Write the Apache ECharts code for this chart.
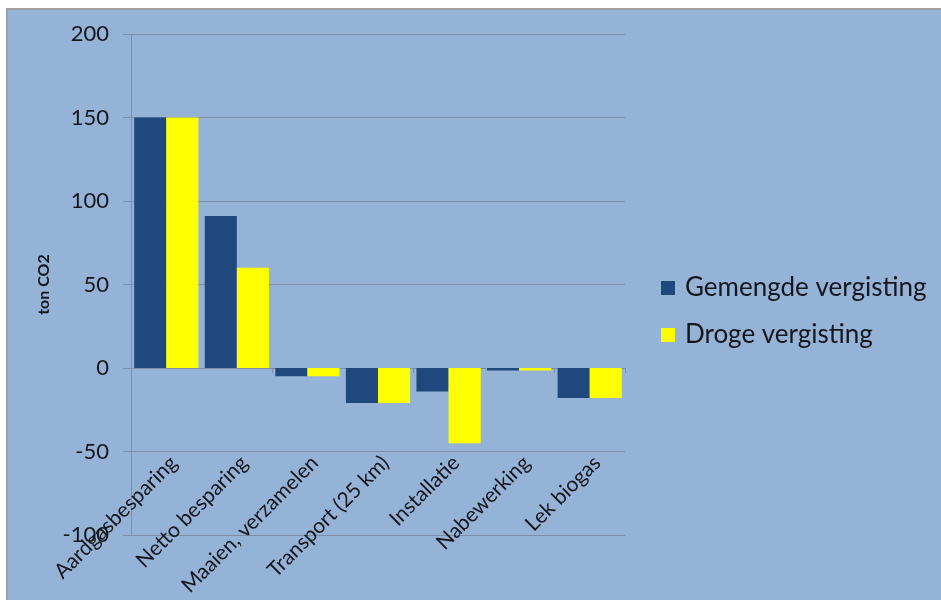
<!DOCTYPE html>
<html>
<head>
<meta charset="utf-8">
<title>ton CO2</title>
<script src="https://cdn.jsdelivr.net/npm/echarts@6/dist/echarts.min.js"></script>
<style>
  html, body { margin: 0; padding: 0; background: #ffffff; }
  #frame {
    position: absolute; left: 6px; top: 8px; right: 0; bottom: 0;
    background: #95b3d7;
    border-top: 2px solid #a0a0a0;
    border-left: 2px solid #a0a0a0;
  }
  #chart { position: absolute; left: 0; top: 0; width: 941px; height: 600px; }
</style>
</head>
<body>
<div id="frame"></div>
<div id="chart"></div>
<script>
// Categories along the x axis
const categories = [
  'Aardgasbesparing',
  'Netto besparing',
  'Maaien, verzamelen',
  'Transport (25 km)',
  'Installatie',
  'Nabewerking',
  'Lek biogas'
];

// Series names
const seriesNames = ['Gemengde vergisting', 'Droge vergisting'];

// Values in ton CO2
const gemengde = [150, 91, -5, -21, -14, -1.5, -18];
const droge = [150, 60, -5, -21, -45, -1.5, -18];

// Value axis range
const yMin = -100;
const yMax = 200;
const yStep = 50;

const FONT = 'Lato, "Open Sans", sans-serif';
const TEXT = '#15171c';
const LINE = '#7d8ea6';

const chart = echarts.init(document.getElementById('chart'), null, { renderer: 'canvas' });

chart.setOption({
  backgroundColor: 'transparent',
  animation: false,
  textStyle: { fontFamily: FONT },
  grid: {
    left: 131, top: 34, width: 494, height: 501,
    containLabel: false,
    outerBoundsMode: 'none'
  },
  legend: {
    orient: 'vertical',
    left: 656, top: 268,
    itemWidth: 14, itemHeight: 14,
    itemGap: 17,
    icon: 'rect',
    data: seriesNames,
    textStyle: {
      fontFamily: FONT, fontSize: 26, color: TEXT,
      lineHeight: 30, padding: [0, 0, 0, 5]
    }
  },
  xAxis: [
    {
      // axis line through zero with boundary ticks
      type: 'category',
      data: categories,
      axisLine: { onZero: true, lineStyle: { color: LINE, width: 1 } },
      axisTick: { show: true, length: 5, lineStyle: { color: LINE } },
      axisLabel: { show: false },
      splitLine: { show: false }
    },
    {
      // category names, slanted, hanging above the bottom edge of the plot
      type: 'category',
      data: categories,
      position: 'bottom',
      axisLine: { show: false, onZero: false },
      axisTick: { show: false },
      axisLabel: {
        interval: 0,
        rotate: 45,
        align: 'right',
        verticalAlign: 'top',
        margin: -83,
        fontFamily: FONT,
        fontSize: 21,
        color: TEXT
      },
      splitLine: { show: false }
    }
  ],
  yAxis: {
    type: 'value',
    min: yMin, max: yMax, interval: yStep,
    name: 'ton CO2',
    nameLocation: 'middle',
    nameRotate: 90,
    nameGap: 78,
    nameTextStyle: { fontFamily: FONT, fontSize: 16, fontWeight: 'bold', color: TEXT },
    axisLine: { show: true, lineStyle: { color: LINE, width: 1 } },
    axisTick: { show: true, length: 8, lineStyle: { color: LINE } },
    axisLabel: { margin: 22, fontFamily: FONT, fontSize: 22, color: TEXT },
    splitLine: { show: true, lineStyle: { color: LINE, width: 1 } }
  },
  series: [
    {
      name: seriesNames[0],
      type: 'bar',
      xAxisIndex: 0,
      data: gemengde,
      barGap: '0%',
      barCategoryGap: '9%',
      itemStyle: { color: '#1f497d' }
    },
    {
      name: seriesNames[1],
      type: 'bar',
      xAxisIndex: 0,
      data: droge,
      barGap: '0%',
      barCategoryGap: '9%',
      itemStyle: { color: '#ffff00' }
    }
  ]
});
</script>
</body>
</html>
